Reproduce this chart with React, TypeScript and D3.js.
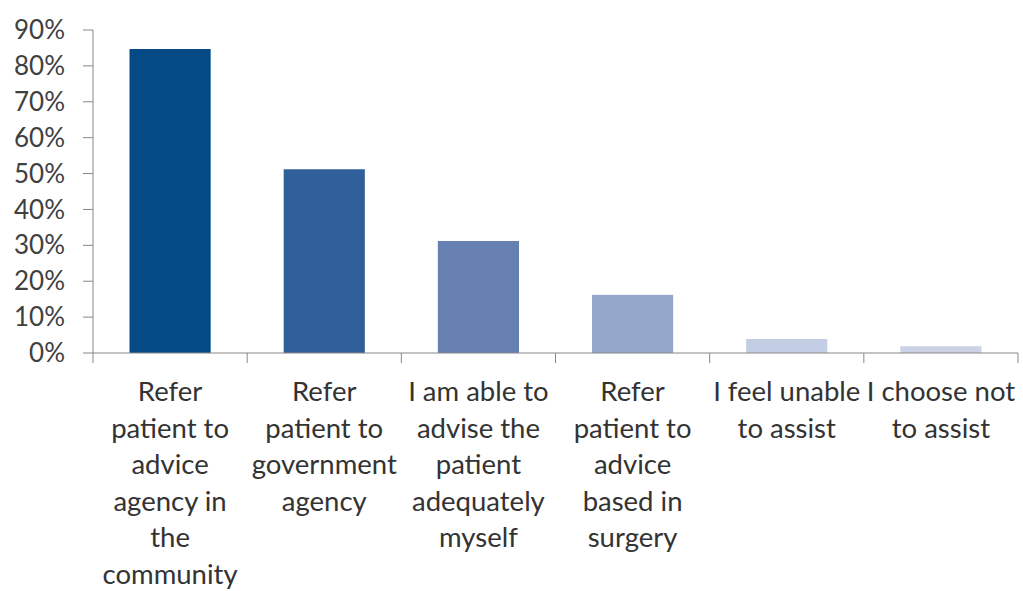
import React from "react";
import * as d3 from "d3";

const categoryLines: string[][] = [
  ["Refer", "patient to", "advice", "agency in", "the", "community"],
  ["Refer", "patient to", "government", "agency"],
  ["I am able to", "advise the", "patient", "adequately", "myself"],
  ["Refer", "patient to", "advice", "based in", "surgery"],
  ["I feel unable", "to assist"],
  ["I choose not", "to assist"],
];
const values = [0.847, 0.512, 0.312, 0.162, 0.039, 0.019];
const barColors = ["#034a87", "#30609a", "#6580b1", "#95a6cb", "#c3cde3", "#cbd2e6"];
const yTicks = [0, 0.1, 0.2, 0.3, 0.4, 0.5, 0.6, 0.7, 0.8, 0.9];

const W = 1023;
const H = 591;
const left = 93;
const right = 1018;
const top = 30;
const bottom = 353;
const FONT = "Lato, 'Open Sans', sans-serif";

export default function App() {
  const x = d3.scaleBand<number>().domain(d3.range(values.length)).range([left, right]).paddingInner(0).paddingOuter(0);
  const y = d3.scaleLinear().domain([0, 0.9]).range([bottom, top]);
  const bw = x.bandwidth() / 1.9;
  const fmt = d3.format(".0%");
  const lineH = 36.5;
  return (
    <svg width={W} height={H} style={{ position: "absolute", left: 0, top: 0, background: "#fff" }}>
      {values.map((v, i) => (
        <rect
          key={i}
          x={(x(i) as number) + (x.bandwidth() - bw) / 2}
          y={y(v)}
          width={bw}
          height={y(0) - y(v)}
          fill={barColors[i]}
        />
      ))}
      <line x1={left} x2={left} y1={top} y2={bottom} stroke="#888" strokeWidth={1} />
      {yTicks.map((t) => (
        <g key={t}>
          <line x1={left - 10} x2={left} y1={y(t)} y2={y(t)} stroke="#888" />
          <text x={65} y={y(t)} dy="0.35em" textAnchor="end" fontFamily={FONT} fontSize={26} fill="#404040">
            {fmt(t)}
          </text>
        </g>
      ))}
      <line x1={left} x2={right} y1={bottom} y2={bottom} stroke="#888" />
      {d3.range(values.length + 1).map((i) => {
        const xx = i < values.length ? (x(i) as number) : right;
        return <line key={i} x1={xx} x2={xx} y1={bottom} y2={bottom + 10} stroke="#888" />;
      })}
      {categoryLines.map((lines, i) => (
        <text
          key={i}
          x={(x(i) as number) + x.bandwidth() / 2}
          textAnchor="middle"
          fontFamily={FONT}
          fontSize={27.5}
          fill="#333"
        >
          {lines.map((l, j) => (
            <tspan key={j} x={(x(i) as number) + x.bandwidth() / 2} y={401 + j * lineH}>
              {l}
            </tspan>
          ))}
        </text>
      ))}
    </svg>
  );
}
